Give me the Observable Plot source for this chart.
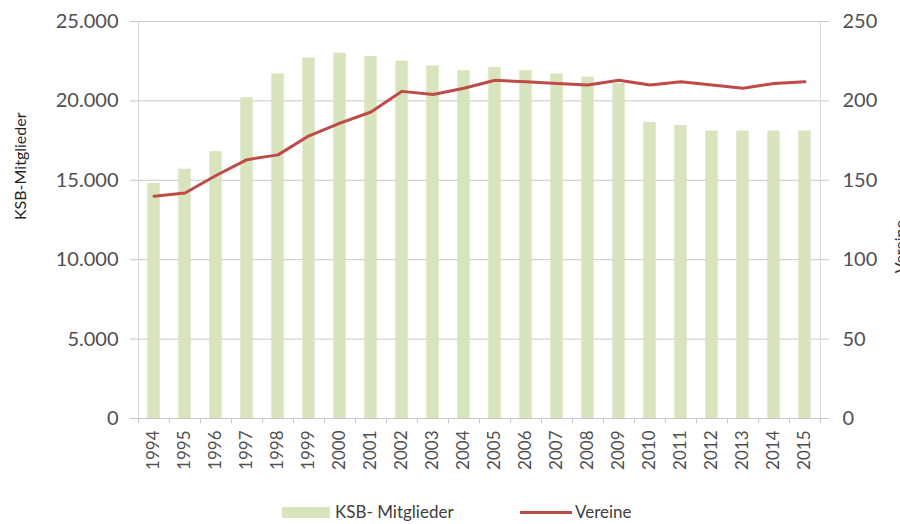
<!DOCTYPE html>
<html><head><meta charset="utf-8">
<script src="https://cdn.jsdelivr.net/npm/d3@7"></script>
<script src="https://cdn.jsdelivr.net/npm/@observablehq/plot@0.6"></script>
<style>
body{margin:0;background:#fff;font-family:Lato,sans-serif;}
#legend{position:relative;height:44px;width:900px;color:#404040;font-size:17px;}
#legend .sw{position:absolute;}
#legend .lb{position:absolute;top:22px;line-height:20px;}
</style></head><body>
<div id="chart"></div>
<div id="legend">
  <div class="sw" style="left:282px;top:27px;width:48px;height:11px;background:#d7e4bd"></div>
  <div class="lb" style="left:335px">KSB- Mitglieder</div>
  <div class="sw" style="left:520px;top:31px;width:52px;height:3px;background:#be4b48"></div>
  <div class="lb" style="left:575px">Vereine</div>
</div>
<script>
const years=[1994,1995,1996,1997,1998,1999,2000,2001,2002,2003,2004,2005,2006,2007,2008,2009,2010,2011,2012,2013,2014,2015];
const members=[14800,15700,16800,20200,21700,22700,23000,22800,22500,22200,21900,22100,21900,21700,21500,21100,18650,18450,18100,18100,18100,18100];
const vereine=[140,142,153,163,166,178,186,193,206,204,208,213,212,211,210,213,210,212,210,208,211,212];
const yTicks=[0,5000,10000,15000,20000,25000];
const ratio=100;
const data=years.map((y,i)=>({year:y,members:members[i],vereine:vereine[i]}));
const fmt=d=>d3.format(",")(d).replace(/,/g,".");
const bounds=[...years.map(y=>y-0.5),years[years.length-1]+0.5];
const gray="#c8c8c8";
const plot=Plot.plot({
  width:900,height:480,marginLeft:138,marginRight:80,marginTop:21,marginBottom:62,
  style:{fontFamily:"Lato, sans-serif",color:"#505050",background:"#fff"},
  x:{domain:[bounds[0],bounds[bounds.length-1]]},
  y:{domain:[0,25000]},
  marks:[
    Plot.gridY(yTicks,{stroke:gray,strokeOpacity:1}),
    Plot.axisY(yTicks,{anchor:"left",tickSize:8,tickPadding:12,tickFormat:fmt,stroke:gray,fontSize:20,label:null}),
    Plot.axisY(yTicks,{anchor:"right",tickSize:8,tickPadding:14,tickFormat:d=>d/ratio,stroke:gray,fontSize:20,label:null}),
    Plot.ruleX([bounds[0],bounds[bounds.length-1]],{stroke:"#d9d9d9"}),
    Plot.rectY(data,{x1:d=>d.year-0.2,x2:d=>d.year+0.2,y:"members",fill:"#d7e4bd"}),
    Plot.ruleY([0],{stroke:gray}),
    Plot.axisX(bounds,{tickSize:5,tickFormat:()=>"",stroke:gray,label:null}),
    Plot.axisX(years,{tickSize:0,tickPadding:12,tickRotate:-90,tickFormat:d=>String(d),fontSize:17,label:null}),
    Plot.line(data,{x:"year",y:d=>d.vereine*ratio,stroke:"#be4b48",strokeWidth:3}),
    Plot.text(["KSB-Mitglieder"],{frameAnchor:"left",dx:-118,rotate:-90,fontSize:16,fill:"#262626"}),
    Plot.text(["Vereine"],{frameAnchor:"right",dx:80,rotate:-90,fontSize:16,fill:"#262626"})
  ]
});
document.getElementById("chart").appendChild(plot);
</script>
</body></html>
